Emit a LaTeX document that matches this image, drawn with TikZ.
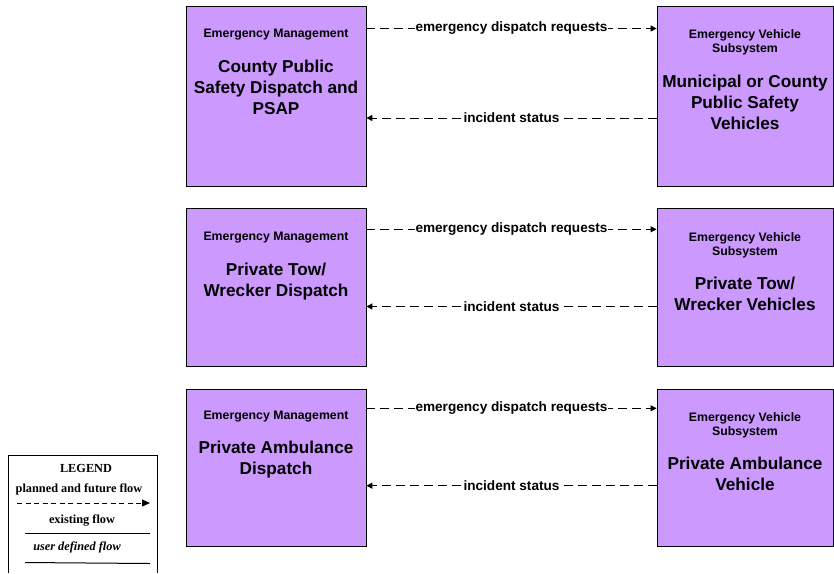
\documentclass[tikz,border=0pt]{standalone}
\usepackage{fontspec}
\setmainfont{Liberation Sans}
\newfontfamily\legfont{Liberation Serif}
\usetikzlibrary{arrows.meta}
\definecolor{boxfill}{HTML}{CC99FF}
\begin{document}
\begin{tikzpicture}[x=1pt,y=-1pt,
  sysbox/.style={draw=black,line width=0.8pt,fill=boxfill,rectangle,inner sep=0pt},
  smalltxt/.style={anchor=north,inner sep=0pt,align=center,font=\bfseries\fontsize{12.3}{14}\selectfont},
  bigtxt/.style={anchor=north,inner sep=0pt,align=center,font=\bfseries\fontsize{17.2}{20.8}\selectfont},
  flow/.style={line width=1pt,dash pattern=on 9pt off 5pt,-{Triangle[length=6pt,width=6pt]}},
  flowlabel/.style={fill=white,inner sep=0.6pt,font=\bfseries\fontsize{13.6}{15}\selectfont},
  legtxt/.style={inner sep=0pt,font=\legfont\bfseries\fontsize{12.3}{14}\selectfont}
]
\useasboundingbox (0,0) rectangle (834,573);
\fill[white] (0,0) rectangle (834,573);

% Row 1
\node[sysbox,minimum width=180pt,minimum height=180pt] (l1) at (276,96) {};
\node[sysbox,minimum width=176pt,minimum height=180pt] (r1) at (745,96) {};
\node[smalltxt] (l1a) at (276,29) {Emergency Management};
\node[bigtxt] (l1b) at (276,60) {County Public\\Safety Dispatch and\\PSAP};
\node[smalltxt] (r1a) at (745,29) {Emergency Vehicle\\Subsystem};
\node[bigtxt] (r1b) at (745,75) {Municipal or County\\Public Safety\\Vehicles};

% Row 2
\node[sysbox,minimum width=180pt,minimum height=158pt] (l2) at (276,287) {};
\node[sysbox,minimum width=176pt,minimum height=158pt] (r2) at (745,287) {};
\node[smalltxt] (l2a) at (276,232) {Emergency Management};
\node[bigtxt] (l2b) at (276,263) {Private Tow/\\Wrecker Dispatch};
\node[smalltxt] (r2a) at (745,232) {Emergency Vehicle\\Subsystem};
\node[bigtxt] (r2b) at (745,277) {Private Tow/\\Wrecker Vehicles};

% Row 3
\node[sysbox,minimum width=180pt,minimum height=157pt] (l3) at (276,467.5) {};
\node[sysbox,minimum width=176pt,minimum height=157pt] (r3) at (745,467.5) {};
\node[smalltxt] (l3a) at (276,411) {Emergency Management};
\node[bigtxt] (l3b) at (276,441) {Private Ambulance\\Dispatch};
\node[smalltxt] (r3a) at (745,412) {Emergency Vehicle\\Subsystem};
\node[bigtxt] (r3b) at (745,457) {Private Ambulance\\Vehicle};

% Flows
\draw[flow] (l1.east |- 0,28.5) -- node[flowlabel] {emergency dispatch requests} (r1.west |- 0,28.5);
\draw[flow] (r1.west |- 0,118) -- node[flowlabel] {incident status} (l1.east |- 0,118);
\draw[flow] (l2.east |- 0,229.3) -- node[flowlabel] {emergency dispatch requests} (r2.west |- 0,229.3);
\draw[flow] (r2.west |- 0,306.5) -- node[flowlabel] {incident status} (l2.east |- 0,306.5);
\draw[flow] (l3.east |- 0,408.3) -- node[flowlabel] {emergency dispatch requests} (r3.west |- 0,408.3);
\draw[flow] (r3.west |- 0,485.7) -- node[flowlabel] {incident status} (l3.east |- 0,485.7);

% Legend
\coordinate (lgbl) at (8,573);
\coordinate (lgtl) at (8,455);
\coordinate (lgtr) at (157,455);
\coordinate (lgbr) at (157,573);
\draw[line width=0.8pt] (lgbl) -- (lgtl) -- (lgtr) -- (lgbr);
\node[legtxt] (lgtitle) at (86,468) {LEGEND};
\node[legtxt] (lgplan) at (79,489) {planned and future flow};
\coordinate (pa) at (17,503);
\coordinate (pb) at (150,503);
\draw[line width=1pt,dash pattern=on 5pt off 3.5pt,-{Triangle[length=8pt,width=7pt]}] (pa) -- (pb);
\node[legtxt] (lgexist) at (82,521) {existing flow};
\coordinate (ea) at (25,533);
\coordinate (eb) at (150,533);
\draw[line width=1pt] (ea) -- (eb);
\node[legtxt,font=\legfont\bfseries\itshape\fontsize{12.3}{14}\selectfont] (lguser) at (77,547) {user defined flow};
\coordinate (ua) at (25,562.5);
\coordinate (ub) at (150,563.5);
\draw[line width=1pt] (ua) -- (ub);
\end{tikzpicture}
\end{document}
